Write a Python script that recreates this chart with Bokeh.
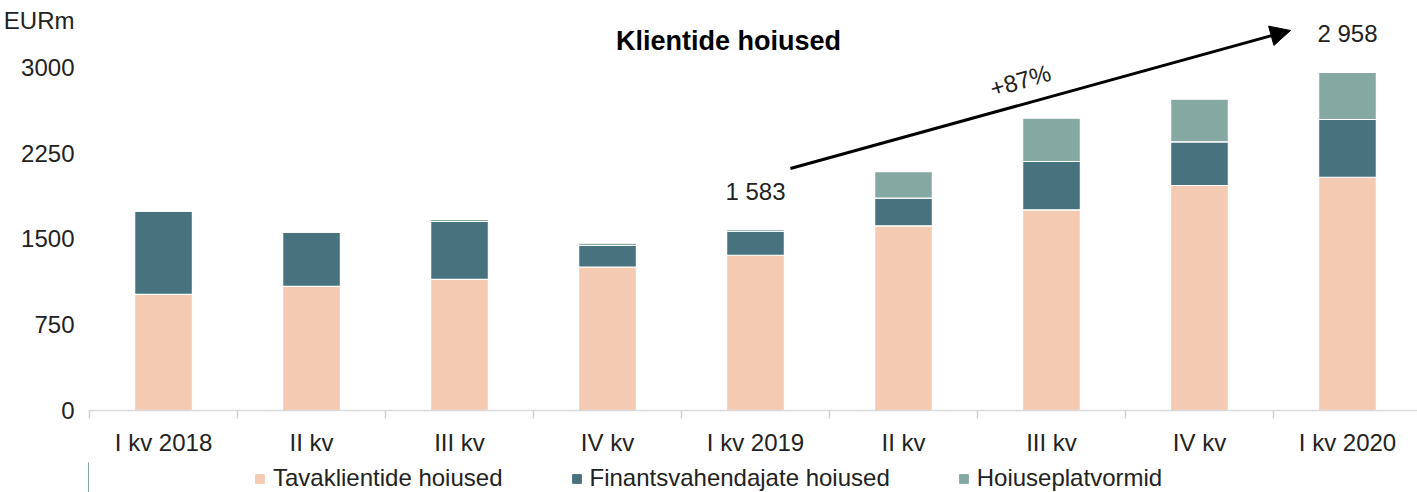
import math
from bokeh.plotting import figure
from bokeh.layouts import column
from bokeh.models import (Range1d, FixedTicker, Label, Arrow, NormalHead, Legend, LegendItem)
from bokeh.embed import file_html
from bokeh.resources import INLINE

categories = ["I kv 2018", "II kv", "III kv", "IV kv", "I kv 2019", "II kv", "III kv", "IV kv", "I kv 2020"]
tavaklientide = [1015, 1085, 1146, 1255, 1358, 1615, 1755, 1968, 2040]
finantsvahendajate = [728, 475, 507, 188, 210, 242, 423, 382, 505]
platvormid = [0, 0, 18, 20, 15, 233, 379, 373, 413]
series_names = ["Tavaklientide hoiused", "Finantsvahendajate hoiused", "Hoiuseplatvormid"]
colors = ["#F4CBB2", "#48737E", "#85A8A3"]
y_ticks = [0, 750, 1500, 2250, 3000]
unit_text = "EURm"
unit_pos = 3411
growth_label = "+87%"
title_text = "Klientide hoiused"

FONT = "Liberation Sans"
TXT = "#222222"
FS = "24px"

xs = list(range(len(categories)))
totals = [a + b + c for a, b, c in zip(tavaklientide, finantsvahendajate, platvormid)]

p = figure(frame_width=1329, frame_height=410, output_backend="svg", toolbar_location=None,
           x_range=Range1d(-0.507, 8.473), y_range=Range1d(0, 3586),
           min_border_left=88, min_border_right=0, min_border_top=0, min_border_bottom=52)
p.outline_line_color = None
p.grid.visible = False

data = dict(x=xs, t=tavaklientide, f=finantsvahendajate, h=platvormid)
renderers = p.vbar_stack(["t", "f", "h"], x="x", width=0.39, color=colors, source=data,
                         line_color="white", line_width=1.2)

# x axis
xa = p.xaxis[0]
xa.ticker = FixedTicker(ticks=xs, minor_ticks=[i - 0.5 for i in range(len(categories) + 1)])
xa.major_label_overrides = {i: c for i, c in enumerate(categories)}
xa.major_tick_line_color = None
xa.major_tick_out = 0
xa.minor_tick_line_color = "#d0d0d0"
xa.minor_tick_out = 8
xa.minor_tick_in = 0
xa.minor_tick_line_width = 1.5
xa.axis_line_color = "#d9d9d9"
xa.axis_line_width = 1.5
xa.major_label_standoff = 10
xa.major_label_text_font = FONT
xa.major_label_text_font_size = FS
xa.major_label_text_color = TXT

# y axis (unit shown at top of the tick column)
ya = p.yaxis[0]
ya.ticker = FixedTicker(ticks=y_ticks + [unit_pos])
ya.major_label_overrides = {unit_pos: unit_text}
ya.axis_line_color = None
ya.major_tick_line_color = None
ya.minor_tick_line_color = None
ya.major_tick_out = 0
ya.major_label_standoff = 14
ya.major_label_text_font = FONT
ya.major_label_text_font_size = FS
ya.major_label_text_color = TXT

# annotations
p.add_layout(Label(x=3.817, y=3236, text=title_text, text_align="center", text_baseline="middle",
                   text_font=FONT, text_font_size="27px", text_font_style="bold", text_color="black"))
for i in (4, 8):
    p.add_layout(Label(x=xs[i], y=totals[i], y_offset=25, text=f"{totals[i]:,}".replace(",", " "),
                       text_align="center", text_baseline="bottom",
                       text_font=FONT, text_font_size=FS, text_color=TXT))
p.add_layout(Arrow(end=NormalHead(size=20, fill_color="black", line_color="black"),
                   x_start=4.236, y_start=2117, x_end=7.615, y_end=3324,
                   line_width=3, line_color="black"))
p.add_layout(Label(x=5.79, y=2886, text=growth_label, text_align="center", text_baseline="middle",
                   angle=math.radians(16), text_font=FONT, text_font_size=FS, text_color=TXT))

# legend strip below the chart (swatch renderers lie outside the visible range)
p2 = figure(width=1417, height=30, output_backend="svg", toolbar_location=None,
            x_range=Range1d(0, 1), y_range=Range1d(0, 1),
            x_axis_location=None, y_axis_location=None, min_border=0)
p2.outline_line_color = None
p2.grid.visible = False
legend_renderers = [p2.vbar(x=[-5], top=[1], width=0.5, color=c) for c in colors]
legend = Legend(items=[LegendItem(label=n, renderers=[r]) for n, r in zip(series_names, legend_renderers)],
                orientation="horizontal", location=(166, 0), spacing=68, padding=0, margin=0,
                glyph_width=11, glyph_height=11, label_standoff=8, label_height=20,
                label_text_font=FONT, label_text_font_size=FS, label_text_color=TXT,
                border_line_color=None, background_fill_alpha=0)
p2.add_layout(legend, "center")

layout = column(p, p2, spacing=0)
open("out.html", "w").write(file_html(layout, INLINE))
